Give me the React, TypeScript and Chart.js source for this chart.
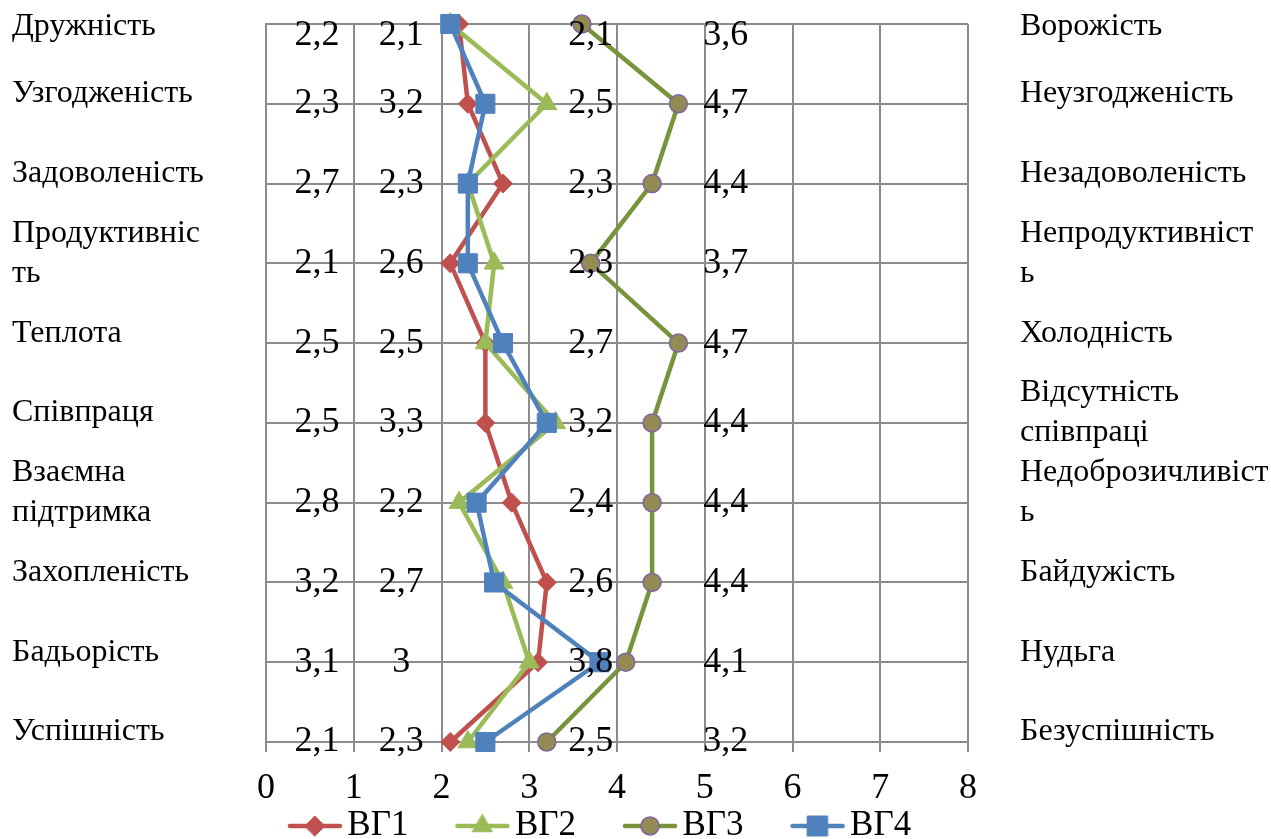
import React, { useEffect, useRef } from 'react';
import { Chart, registerables } from 'chart.js';

Chart.register(...registerables);

const SERIF = '"Liberation Serif", "Times New Roman", serif';
const GRID = '#8c8c8c';

const leftLabels: (string | string[])[] = [
  'Дружність',
  'Узгодженість',
  'Задоволеність',
  ['Продуктивніс', 'ть'],
  'Теплота',
  'Співпраця',
  ['Взаємна', 'підтримка'],
  'Захопленість',
  'Бадьорість',
  'Успішність',
];
const rightLabels: (string | string[])[] = [
  'Ворожість',
  'Неузгодженість',
  'Незадоволеність',
  ['Непродуктивніст', 'ь'],
  'Холодність',
  ['Відсутність', 'співпраці'],
  ['Недоброзичливіст', 'ь'],
  'Байдужість',
  'Нудьга',
  'Безуспішність',
];
const seriesNames = ['ВГ1', 'ВГ2', 'ВГ3', 'ВГ4'];
const vg1 = [2.2, 2.3, 2.7, 2.1, 2.5, 2.5, 2.8, 3.2, 3.1, 2.1];
const vg2 = [2.1, 3.2, 2.3, 2.6, 2.5, 3.3, 2.2, 2.7, 3, 2.3];
const vg3 = [3.6, 4.7, 4.4, 3.7, 4.7, 4.4, 4.4, 4.4, 4.1, 3.2];
const vg4 = [2.1, 2.5, 2.3, 2.3, 2.7, 3.2, 2.4, 2.6, 3.8, 2.5];
const xTicks = [0, 1, 2, 3, 4, 5, 6, 7, 8];

const styles = [
  { line: '#C0504D', fill: '#C0504D', border: '#C0504D', marker: 'rectRot', radius: 9.5, bw: 1 },
  { line: '#9BBB59', fill: '#9BBB59', border: '#9BBB59', marker: 'triangle', radius: 11.5, bw: 1 },
  { line: '#77933C', fill: '#948A54', border: '#8064A2', marker: 'circle', radius: 9, bw: 1.5 },
  { line: '#4F81BD', fill: '#4F81BD', border: '#4F81BD', marker: 'rect', radius: 13.5, bw: 1 },
];

// label column (in x-axis units) for each series' value labels
const labelColumns = [0.58, 1.54, 5.24, 3.7];

function makeIcon(s: any): HTMLCanvasElement {
  const c = document.createElement('canvas');
  c.width = 105;
  c.height = 26;
  const ctx = c.getContext('2d')!;
  const cy = 13;
  const cx = 77;
  ctx.strokeStyle = s.line;
  ctx.lineWidth = 4.5;
  ctx.lineCap = 'round';
  ctx.beginPath();
  ctx.moveTo(52, cy);
  ctx.lineTo(102, cy);
  ctx.stroke();
  ctx.fillStyle = s.fill;
  ctx.strokeStyle = s.border;
  ctx.lineWidth = s.bw;
  ctx.beginPath();
  if (s.marker === 'rectRot') {
    const r = 10;
    ctx.moveTo(cx - r, cy);
    ctx.lineTo(cx, cy - r);
    ctx.lineTo(cx + r, cy);
    ctx.lineTo(cx, cy + r);
    ctx.closePath();
  } else if (s.marker === 'triangle') {
    const r = 11.5;
    ctx.moveTo(cx, cy - r);
    ctx.lineTo(cx + r * 0.866, cy + r * 0.5);
    ctx.lineTo(cx - r * 0.866, cy + r * 0.5);
    ctx.closePath();
  } else if (s.marker === 'circle') {
    ctx.arc(cx, cy, 9, 0, Math.PI * 2);
  } else {
    ctx.rect(cx - 10, cy - 10, 20, 20);
  }
  ctx.fill();
  ctx.stroke();
  return c;
}

// nudge the first (top) category label down so it is not pushed against the top edge
function patchTopLabel(s: any) {
  if (s.__topPatched) return;
  s.__topPatched = true;
  const orig = s._computeLabelItems;
  s._computeLabelItems = function (area: any) {
    const items = orig.call(this, area);
    if (items && items[0] && items[0].options && items[0].options.translation) {
      items[0].options.translation = [items[0].options.translation[0], items[0].options.translation[1] + 13];
    }
    return items;
  };
}

const valueLabelPlugin = {
  id: 'valueLabels',
  afterDatasetsDraw(chart: any) {
    const ctx = chart.ctx;
    const xs = chart.scales.x;
    ctx.save();
    ctx.font = `36px ${SERIF}`;
    ctx.fillStyle = '#000';
    ctx.textAlign = 'center';
    ctx.textBaseline = 'middle';
    chart.data.datasets.forEach((ds: any, i: number) => {
      const meta = chart.getDatasetMeta(i);
      const px = xs.getPixelForValue(labelColumns[i]);
      meta.data.forEach((pt: any, j: number) => {
        const v = ds.data[j];
        ctx.fillText(String(v).replace('.', ','), px, pt.y + (j === 0 ? 12 : 0));
      });
    });
    ctx.restore();
  },
};

export default function App() {
  const ref = useRef<HTMLCanvasElement>(null);
  useEffect(() => {
    if (!ref.current) return;
    const icons = styles.map(makeIcon);
    const series = [vg1, vg2, vg3, vg4];
    const chart = new Chart(ref.current, {
      type: 'line',
      data: {
        labels: leftLabels as any,
        datasets: series.map((d, i) => ({
          label: seriesNames[i],
          data: d,
          xAxisID: 'x',
          yAxisID: 'y',
          order: 4 - i,
          clip: false as any,
          borderColor: styles[i].line,
          borderWidth: 4.5,
          tension: 0,
          pointStyle: styles[i].marker as any,
          pointRadius: styles[i].radius,
          pointBackgroundColor: styles[i].fill,
          pointBorderColor: styles[i].border,
          pointBorderWidth: styles[i].bw,
          fill: false,
        })),
      },
      options: {
        indexAxis: 'y',
        animation: false,
        responsive: false,
        layout: { padding: { left: 12, right: 121, top: 24, bottom: -14.5 } },
        scales: {
          x: {
            type: 'linear',
            position: 'bottom',
            min: 0,
            max: 8,
            afterBuildTicks: (s: any) => {
              s.ticks = xTicks.map((v) => ({ value: v }));
            },
            afterFit: (s: any) => {
              s.height = 56.5;
            },
            grid: { color: GRID, lineWidth: 2, drawTicks: true, tickLength: 10, tickColor: GRID },
            border: { display: true, color: GRID, width: 2 },
            ticks: {
              font: { family: SERIF, size: 36 },
              color: '#000',
              padding: 15,
              maxRotation: 0,
              callback: (v: any) => String(v),
            },
          },
          y: {
            type: 'category',
            position: 'left',
            afterFit: (s: any) => {
              s.width = 254;
              patchTopLabel(s);
            },
            grid: { color: GRID, lineWidth: 2, drawTicks: false },
            border: { display: true, color: GRID, width: 2 },
            ticks: {
              crossAlign: 'far',
              labelOffset: -10,
              padding: 0,
              autoSkip: false,
              font: { family: SERIF, size: 32, lineHeight: 1.25 },
              color: '#000',
            },
          },
          y2: {
            type: 'category',
            position: 'right',
            labels: rightLabels as any,
            afterFit: (s: any) => {
              s.width = 182;
              // let the right-hand labels run past the narrow axis box
              s._computeLabelArea = () => undefined;
              patchTopLabel(s);
            },
            grid: { display: false, drawTicks: true, tickLength: 52 },
            border: { display: false },
            ticks: {
              crossAlign: 'near',
              labelOffset: -10,
              padding: 0,
              autoSkip: false,
              font: { family: SERIF, size: 32, lineHeight: 1.25 },
              color: '#000',
            },
          },
        },
        plugins: {
          tooltip: { enabled: false },
          legend: {
            display: true,
            position: 'bottom',
            fullSize: true,
            labels: {
              usePointStyle: true,
              pointStyleWidth: 79,
              padding: 10,
              color: '#000',
              font: { family: SERIF, size: 35 },
              generateLabels: (ch: any) => {
                const items = (Chart.defaults.plugins.legend.labels as any).generateLabels(ch);
                return items
                  .sort((a: any, b: any) => a.datasetIndex - b.datasetIndex)
                  .map((it: any) => ({ ...it, pointStyle: icons[it.datasetIndex], rotation: 0 }));
              },
            },
          },
        },
      } as any,
      plugins: [valueLabelPlugin],
    });
    return () => chart.destroy();
  }, []);
  return (
    <div style={{ position: 'absolute', left: 0, top: 0, width: 1271, height: 839, background: '#fff' }}>
      <canvas ref={ref} width={1271} height={839} style={{ display: 'block' }} />
    </div>
  );
}
